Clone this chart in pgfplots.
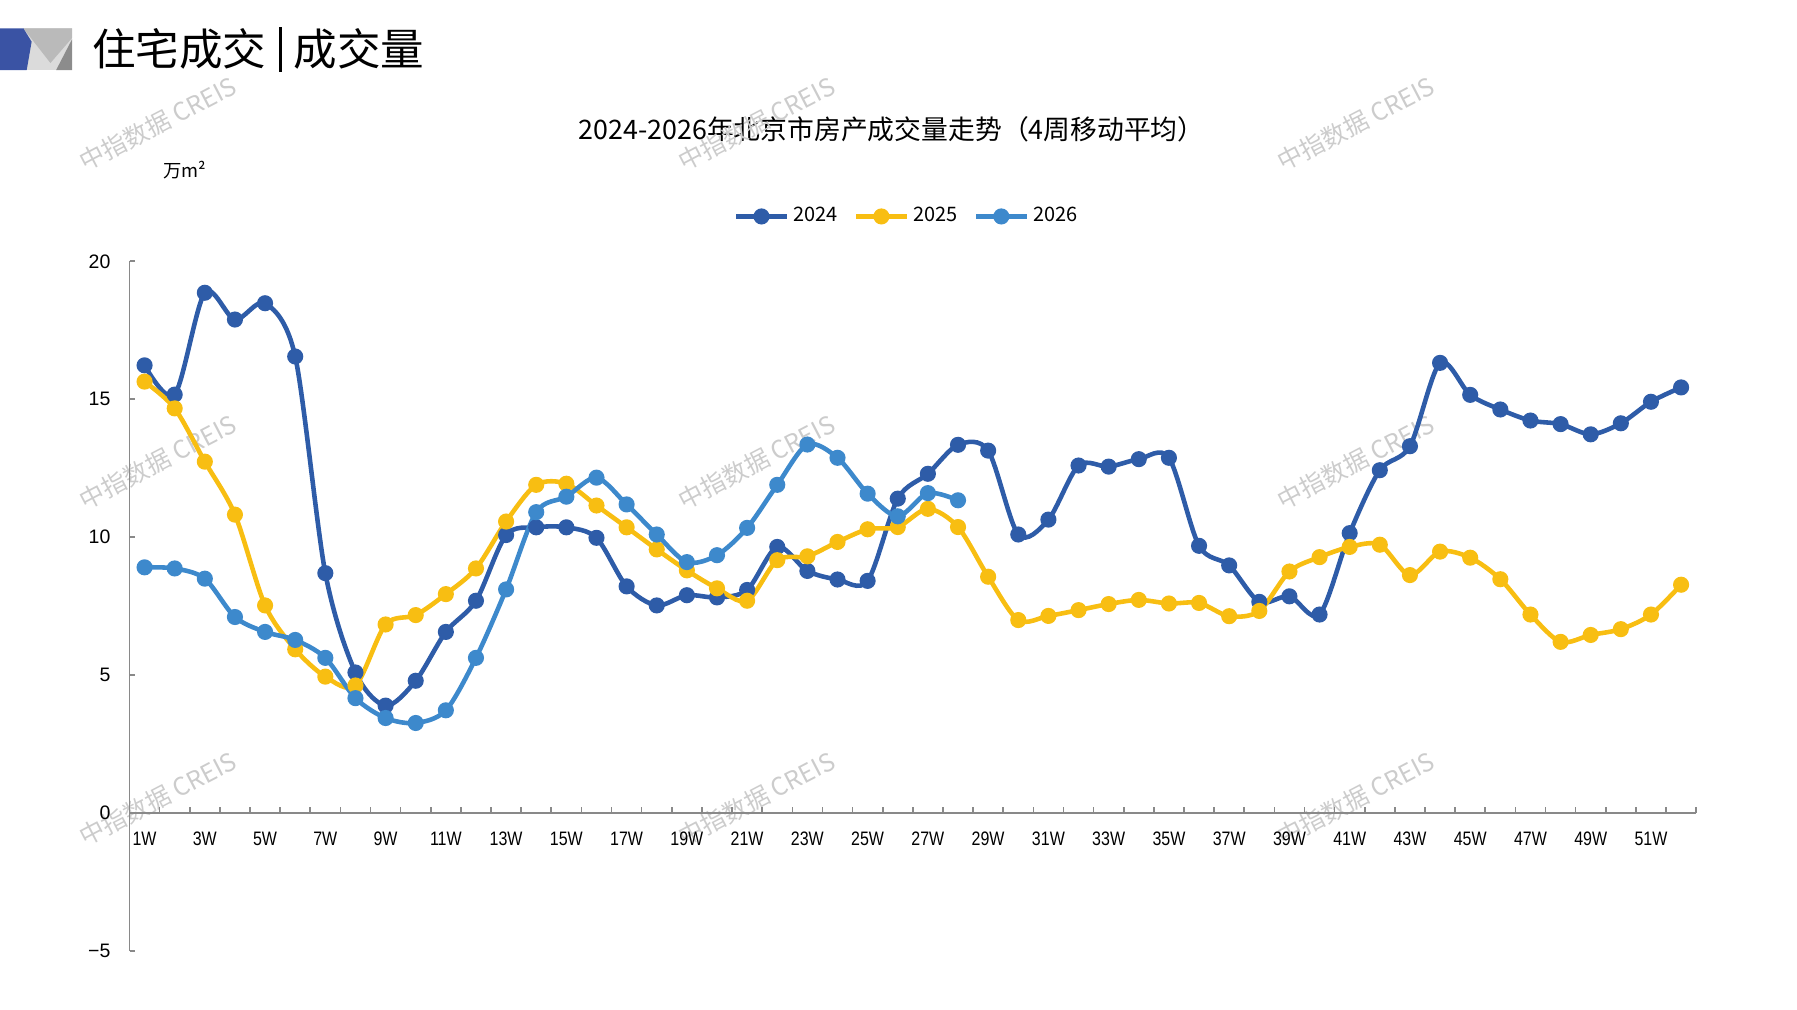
\documentclass[border=0pt]{standalone}
\usepackage{fontspec}
\setmainfont{Liberation Sans}
\newfontfamily\cjk{Noto Sans CJK SC}
\newfontfamily\narrow[FakeStretch=0.82]{Liberation Sans}
\usepackage{pgfplots}
\pgfplotsset{compat=1.18}
\definecolor{c24}{HTML}{2E5CA8}
\definecolor{c25}{HTML}{F8BE12}
\definecolor{c26}{HTML}{3D89CC}
\definecolor{axgray}{HTML}{898989}
\definecolor{logoblue}{HTML}{3A53A4}
\newcommand{\wm}[2]{\node[rotate=27.5,text=black!20,font=\cjk\fontsize{10.8}{12}\selectfont] at (#1,#2) {中指数据 CREIS};}
\begin{document}
\begin{tikzpicture}
\path[use as bounding box] (0,0) rectangle (784pt,-440.5pt);
\begin{scope}[x=0.5pt,y=-0.5pt]
  % logo
  \fill[black!14] (20,24.7) rectangle (63,61.1);
  \fill[black!27] (20.4,24.7) -- (63,24.7) -- (63,33) -- (44,55) -- cycle;
  \fill[black!45] (63,34) -- (63,61.1) -- (49,61.1) -- cycle;
  \fill[logoblue] (0,24.7) -- (20.4,24.7) -- (27.6,36.4) -- (23.3,61.1) -- (0,61.1) -- cycle;
  % header
  \node[anchor=west,inner sep=0,font=\cjk\fontsize{19}{20}\selectfont] at (80,43) {住宅成交};
  \draw[line width=1.2pt] (245,24) -- (245,63);
  \node[anchor=west,inner sep=0,font=\cjk\fontsize{19}{20}\selectfont] at (256,43) {成交量};
  % title
  \node[font=\cjk\fontsize{11.7}{13}\selectfont] at (778,113) {2024-2026年北京市房产成交量走势（4周移动平均）};
  % unit
  \node[font=\cjk\fontsize{8}{9}\selectfont] at (161,148) {万m²};
  % watermarks
  \wm{138}{108}\wm{660}{108}\wm{1183}{108}
  \wm{138}{403}\wm{660}{403}\wm{1183}{403}
  \wm{138}{697}\wm{660}{697}\wm{1183}{697}
\end{scope}
\begin{axis}[
  at={(56.5pt,-415pt)}, anchor=south west,
  scale only axis, width=683.5pt, height=301pt,
  xmin=0.5, xmax=52.5, ymin=-5, ymax=20,
  axis x line*=middle, axis y line*=left,
  hide obscured x ticks=false, hide obscured y ticks=false,
  axis line style={draw=axgray, line width=0.7pt},
  tick align=inside,
  major tick length=2.6pt,
  tick style={draw=axgray, line width=0.7pt},
  xtick={0.5,1.5,...,52.5},
  xticklabels={},
  extra x ticks={1,3,...,51},
  extra x tick labels={1W,3W,5W,7W,9W,11W,13W,15W,17W,19W,21W,23W,25W,27W,29W,31W,33W,35W,37W,39W,41W,43W,45W,47W,49W,51W},
  extra x tick style={major tick length=0pt, tick style={draw=none}},
  ytick={-5,0,5,10,15,20},
  yticklabels={−5,0,5,10,15,20},
  xticklabel style={font=\narrow\fontsize{8.5}{10}\selectfont, yshift=-4.6pt},
  yticklabel style={font=\fontsize{8.5}{10}\selectfont, xshift=-4.8pt},
  clip=false,
  legend columns=3,
  legend style={at={(0.497,1.065)}, anchor=center, draw=none, fill=none,
    font=\cjk\fontsize{8.7}{10}\selectfont,
    /tikz/every even column/.append style={column sep=5pt}},
  legend image code/.code={\draw[#1, mark repeat=2, mark phase=2] plot coordinates {(0pt,0pt) (11pt,0pt) (22pt,0pt)};},
  every axis plot/.append style={line width=2pt, smooth, mark=*, mark size=2.5pt},
]
\addplot[c24, mark options={solid, fill=c24}] coordinates {
(1,16.23) (2,15.17) (3,18.86) (4,17.89) (5,18.48) (6,16.55) (7,8.7) (8,5.1) (9,3.9) (10,4.8)
(11,6.57) (12,7.7) (13,10.08) (14,10.36) (15,10.36) (16,9.98) (17,8.22) (18,7.53) (19,7.9) (20,7.82)
(21,8.09) (22,9.65) (23,8.78) (24,8.47) (25,8.42) (26,11.4) (27,12.3) (28,13.35) (29,13.14) (30,10.1)
(31,10.64) (32,12.6) (33,12.56) (34,12.83) (35,12.88) (36,9.69) (37,8.98) (38,7.66) (39,7.86) (40,7.2)
(41,10.15) (42,12.43) (43,13.3) (44,16.32) (45,15.16) (46,14.63) (47,14.23) (48,14.1) (49,13.73) (50,14.13)
(51,14.91) (52,15.43)};
\addlegendentry{2024}
\addplot[c25, mark options={solid, fill=c25}] coordinates {
(1,15.64) (2,14.67) (3,12.74) (4,10.82) (5,7.53) (6,5.94) (7,4.95) (8,4.63) (9,6.84) (10,7.18)
(11,7.94) (12,8.87) (13,10.57) (14,11.9) (15,11.94) (16,11.15) (17,10.36) (18,9.56) (19,8.8) (20,8.15)
(21,7.7) (22,9.17) (23,9.31) (24,9.83) (25,10.29) (26,10.37) (27,11.03) (28,10.37) (29,8.57) (30,7.0)
(31,7.15) (32,7.36) (33,7.58) (34,7.73) (35,7.6) (36,7.62) (37,7.14) (38,7.33) (39,8.76) (40,9.28)
(41,9.65) (42,9.73) (43,8.63) (44,9.48) (45,9.26) (46,8.48) (47,7.2) (48,6.21) (49,6.46) (50,6.67)
(51,7.2) (52,8.28)};
\addlegendentry{2025}
\addplot[c26, mark options={solid, fill=c26}] coordinates {
(1,8.91) (2,8.87) (3,8.5) (4,7.11) (5,6.57) (6,6.28) (7,5.63) (8,4.17) (9,3.45) (10,3.27)
(11,3.73) (12,5.63) (13,8.11) (14,10.91) (15,11.47) (16,12.16) (17,11.19) (18,10.1) (19,9.1) (20,9.35)
(21,10.34) (22,11.9) (23,13.36) (24,12.88) (25,11.58) (26,10.76) (27,11.6) (28,11.34)};
\addlegendentry{2026}
\end{axis}
\end{tikzpicture}
\end{document}
